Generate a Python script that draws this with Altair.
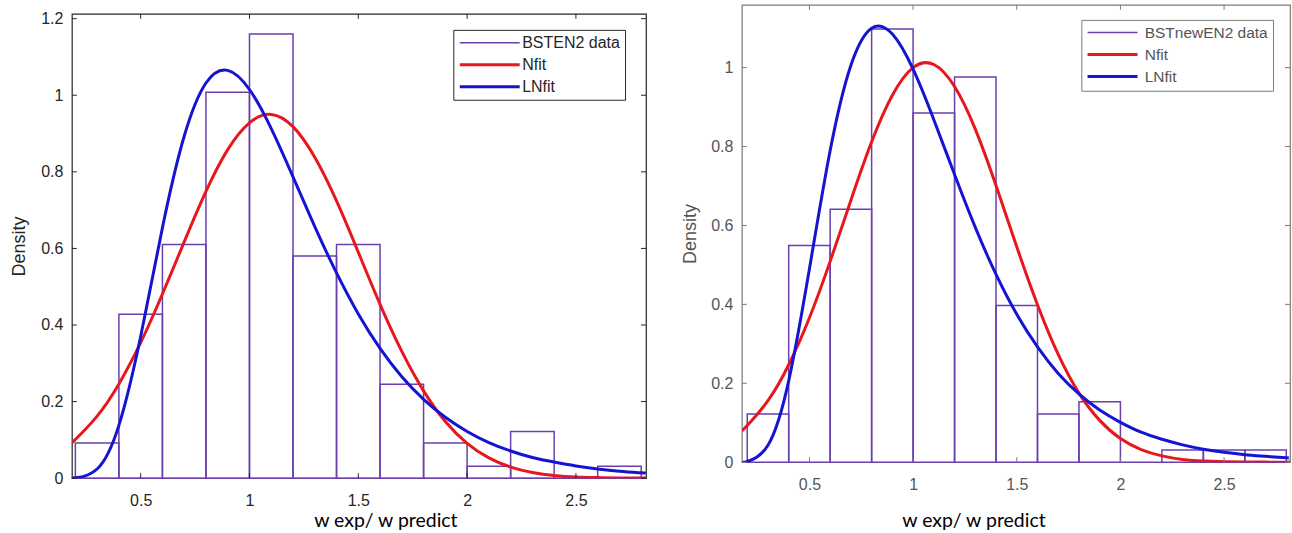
import altair as alt
import pandas as pd

# ---------------- data ----------------
bin_edges = [0.2, 0.4, 0.6, 0.8, 1.0, 1.2, 1.4, 1.6, 1.8, 2.0, 2.2, 2.4, 2.6, 2.8]

left_label = "BSTEN2 data"
left_density = [0.092, 0.428, 0.610, 1.008, 1.160, 0.580, 0.610, 0.245, 0.092, 0.031, 0.122, 0.0, 0.031]
left_curve_x = [0.184, 0.2, 0.3, 0.4, 0.5, 0.6, 0.7, 0.8, 0.9, 1.0, 1.1, 1.2, 1.3, 1.4, 1.5,
                1.6, 1.7, 1.8, 1.9, 2.0, 2.1, 2.2, 2.3, 2.4, 2.5, 2.6, 2.7, 2.8, 2.822]
left_nfit = [0.093, 0.101, 0.162, 0.246, 0.354, 0.481, 0.617, 0.749, 0.858, 0.928, 0.950, 0.918,
             0.838, 0.724, 0.590, 0.454, 0.331, 0.228, 0.148, 0.091, 0.053, 0.029, 0.015, 0.007,
             0.003, 0.0015, 0.0006, 0.0002, 0.0002]
left_lnfit = [0.0004, 0.0008, 0.024, 0.138, 0.370, 0.654, 0.893, 1.032, 1.065, 1.015, 0.913, 0.787,
              0.657, 0.536, 0.429, 0.339, 0.265, 0.206, 0.159, 0.122, 0.093, 0.071, 0.054, 0.042,
              0.032, 0.024, 0.018, 0.014, 0.013]

right_label = "BSTnewEN2 data"
right_density = [0.122, 0.549, 0.641, 1.098, 0.885, 0.976, 0.397, 0.122, 0.153, 0.0, 0.031, 0.031, 0.031]
right_curve_x = [0.174, 0.2, 0.3, 0.4, 0.5, 0.6, 0.7, 0.8, 0.9, 1.0, 1.1, 1.2, 1.3, 1.4, 1.5,
                 1.6, 1.7, 1.8, 1.9, 2.0, 2.1, 2.2, 2.3, 2.4, 2.5, 2.6, 2.7, 2.8, 2.818]
right_nfit = [0.080, 0.093, 0.156, 0.247, 0.366, 0.509, 0.664, 0.812, 0.930, 1.000, 1.008, 0.952,
              0.844, 0.701, 0.546, 0.399, 0.273, 0.175, 0.106, 0.060, 0.032, 0.016, 0.007, 0.003,
              0.0013, 0.0005, 0.0002, 0.0001, 0.0001]
right_lnfit = [0.0005, 0.0019, 0.043, 0.206, 0.490, 0.790, 1.006, 1.100, 1.085, 0.996, 0.868, 0.729,
               0.595, 0.476, 0.375, 0.292, 0.225, 0.173, 0.132, 0.101, 0.076, 0.058, 0.044, 0.033,
               0.025, 0.019, 0.015, 0.011, 0.010]

x_ticks = [0.5, 1, 1.5, 2, 2.5]
left_y_ticks = [0, 0.2, 0.4, 0.6, 0.8, 1, 1.2]
right_y_ticks = [0, 0.2, 0.4, 0.6, 0.8, 1]

PURPLE = "#6a3fae"
RED = "#e8171c"
BLUE = "#1414d2"


def panel(label, density, cx, nfit, lnfit, xdom, ydom, yticks, W, H,
          box_color, text_color, lx, ly, sym_path, lab_off, leg_font, row_pad,
          ytitle_x, xtitle_x, xtitle_y):
    bars = pd.DataFrame({"x": bin_edges[:-1], "x2": bin_edges[1:], "y": density, "series": label})
    curves = pd.concat([
        pd.DataFrame({"x": cx, "y": nfit, "series": "Nfit"}),
        pd.DataFrame({"x": cx, "y": lnfit, "series": "LNfit"}),
    ])
    xt = pd.DataFrame({"x": x_ticks})
    yt = pd.DataFrame({"y": yticks})

    domain = [label, "Nfit", "LNfit"]
    leg = dict(orient="none", legendX=lx, legendY=ly, title=None,
               symbolType=sym_path, symbolSize=100,
               labelFont="Liberation Sans", labelFontSize=leg_font, labelColor=text_color,
               labelOffset=lab_off, padding=5, rowPadding=row_pad,
               strokeColor=box_color, fillColor="white", labelLimit=0)
    stroke = alt.Stroke("series:N", scale=alt.Scale(domain=domain, range=[PURPLE, RED, BLUE]),
                        legend=alt.Legend(**leg))
    swidth = alt.StrokeWidth("series:N", scale=alt.Scale(type="ordinal", domain=domain, range=[1.5, 3, 3]),
                             legend=alt.Legend(**leg))

    xs = alt.Scale(domain=xdom, nice=False, zero=False)
    ys = alt.Scale(domain=ydom, nice=False, zero=False)

    xaxis = alt.Axis(values=x_ticks, format="~g", grid=False, ticks=False, tickSize=0, domain=False,
                     labelFont="Liberation Sans", labelFontSize=16, labelColor=text_color,
                     labelPadding=14, labelFlush=False,
                     title="w exp/ w predict", titleFont="Lato", titleFontSize=19.5,
                     titleFontWeight="normal", titleColor="#000000",
                     titleX=xtitle_x, titleY=xtitle_y, titleAlign="center", titleBaseline="middle")
    yaxis = alt.Axis(values=yticks, format="~g", grid=False, ticks=False, tickSize=0, domain=False,
                     labelFont="Liberation Sans", labelFontSize=16, labelColor=text_color,
                     labelPadding=9,
                     title="Density", titleFont="Liberation Sans", titleFontSize=18,
                     titleFontWeight="normal", titleColor=text_color, titleX=ytitle_x)

    hist = alt.Chart(bars).mark_rect(filled=False).encode(
        x=alt.X("x:Q", scale=xs, axis=xaxis),
        x2="x2:Q",
        y=alt.Y("y:Q", scale=ys, axis=yaxis),
        y2=alt.datum(0),
        stroke=stroke,
        strokeWidth=swidth,
    )
    lines = alt.Chart(curves).mark_line(interpolate="natural", clip=True).encode(
        x=alt.X("x:Q", scale=xs),
        y=alt.Y("y:Q", scale=ys),
        stroke=stroke,
        strokeWidth=swidth,
        order=alt.Order("x:Q"),
    )
    nline = lines.transform_filter(alt.datum.series == "Nfit")
    lnline = lines.transform_filter(alt.datum.series == "LNfit")

    tick_len = 5
    bt = alt.Chart(xt).mark_rule(color=box_color, strokeWidth=1).encode(
        x=alt.X("x:Q", scale=xs), y=alt.value(H), y2=alt.value(H - tick_len))
    tt = alt.Chart(xt).mark_rule(color=box_color, strokeWidth=1).encode(
        x=alt.X("x:Q", scale=xs), y=alt.value(0), y2=alt.value(tick_len))
    lt = alt.Chart(yt).mark_rule(color=box_color, strokeWidth=1).encode(
        y=alt.Y("y:Q", scale=ys), x=alt.value(0), x2=alt.value(tick_len))
    rt = alt.Chart(yt).mark_rule(color=box_color, strokeWidth=1).encode(
        y=alt.Y("y:Q", scale=ys), x=alt.value(W - tick_len), x2=alt.value(W))

    return alt.layer(hist, nline, lnline, bt, tt, lt, rt).properties(
        width=W, height=H,
        view=alt.ViewBackground(stroke=box_color, strokeWidth=1.2, fill="white"),
    )


left = panel(left_label, left_density, left_curve_x, left_nfit, left_lnfit,
             [0.184, 2.822], [0, 1.2125], left_y_ticks, 575, 465,
             "#262626", "#262626", 382, 25, "M-1.3,0H10.7", 48, 16, 6,
             -43, 314, 42)
right = panel(right_label, right_density, right_curve_x, right_nfit, right_lnfit,
              [0.174, 2.818], [0, 1.159], right_y_ticks, 549, 458,
              "#7a7a7a", "#555555", 340, 15, "M-1.3,0H8.7", 43, 15.5, 5,
              -42, 232, 58)

# small empty block above the left panel so its frame starts lower than the right one
spacer = alt.Chart(pd.DataFrame({"a": [0]})).mark_point(size=1, opacity=0).encode(
    x=alt.value(0), y=alt.value(0)
).properties(width=1, height=4.5, view=alt.ViewBackground(stroke="transparent"))

left_col = alt.vconcat(spacer, left, spacing=0)

chart = alt.hconcat(left_col, right, spacing=33).resolve_scale(
    x="independent", y="independent", stroke="independent", strokeWidth="independent"
).properties(
    padding={"left": 10, "top": 2.5, "right": 0, "bottom": 0},
    background="white",
)

chart.save("out.html", embed_options={"renderer": "svg", "actions": False})
